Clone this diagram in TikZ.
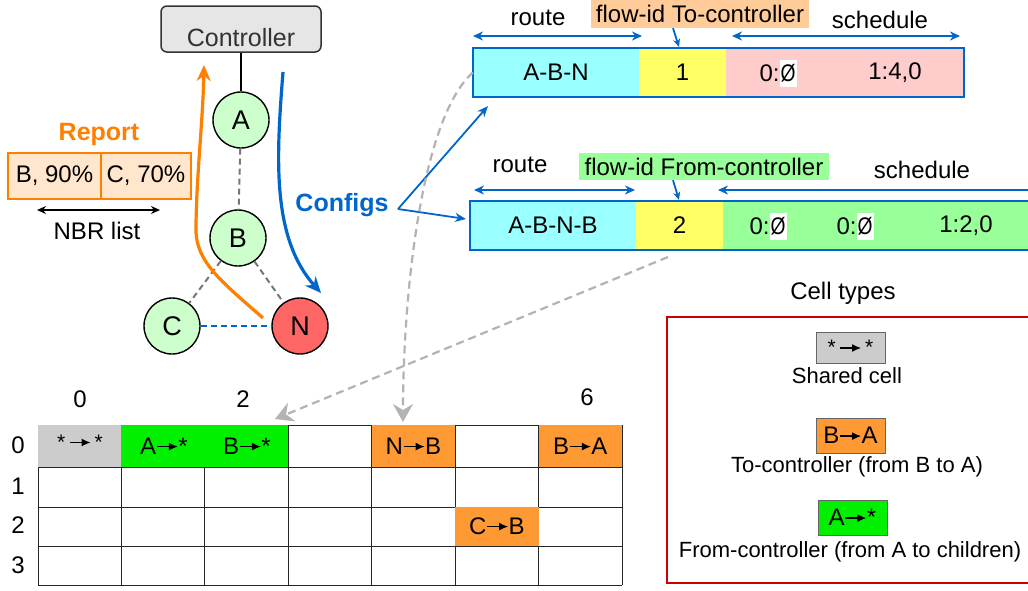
\documentclass[tikz,border=0pt]{standalone}
\usepackage{fontspec}
\setmainfont{Liberation Sans}
\usetikzlibrary{arrows.meta}
\definecolor{cblue}{HTML}{0066CC}
\definecolor{corange}{HTML}{FF8000}
\definecolor{nodegreen}{HTML}{CCFFCC}
\definecolor{nred}{HTML}{FF6666}
\definecolor{cyanc}{HTML}{99FFFF}
\definecolor{yell}{HTML}{FFFF66}
\definecolor{pinkc}{HTML}{FFCCCC}
\definecolor{lgreen}{HTML}{99FF99}
\definecolor{lblorange}{HTML}{FFCC99}
\definecolor{cellorange}{HTML}{FF9933}
\definecolor{cellgreen}{HTML}{00F000}
\definecolor{cellgray}{HTML}{CCCCCC}
\definecolor{repfill}{HTML}{FFE6CC}
\definecolor{ctrlfill}{HTML}{E6E6E6}
\definecolor{ctrlborder}{HTML}{333333}
\definecolor{dashgray}{HTML}{777777}
\definecolor{lightdash}{HTML}{B3B3B3}
\definecolor{legred}{HTML}{CC0000}
\newcommand\cellar[1][21pt]{\tikz[baseline=-0.32em]\draw[line width=1.2pt,-{Latex[length=9pt,width=8pt]}] (0pt,0pt)--(#1,0pt);}
\newcommand\nul{\tikz[baseline=0pt]\node[fill=white,inner sep=0pt,minimum height=27pt,minimum width=17pt,anchor=base,text depth=0pt] {\scalebox{0.8}[1]{Ø}};}
\begin{document}
\begin{tikzpicture}[x=1pt,y=-1pt,
  every node/.style={font=\fontsize{24}{28}\selectfont},
  circ/.style={circle,draw=black,line width=1.4pt,fill=nodegreen,minimum size=56pt,inner sep=0pt,font=\fontsize{27}{30}\selectfont},
  gdash/.style={draw=dashgray,line width=2pt,dash pattern=on 6pt off 4pt},
  seg/.style={minimum height=49pt,inner sep=0pt},
  barborder/.style={draw=cblue,line width=2pt},
  barrow/.style={draw=cblue,line width=2.2pt},
  bigdash/.style={draw=lightdash,line width=2.2pt,dash pattern=on 8pt off 5pt,-{Stealth[length=18pt,width=20pt,inset=6pt]}},
  gridline/.style={draw=black!85,line width=1pt},
  legbox/.style={draw=black!60,line width=1pt,inner sep=0pt},
  legtext/.style={font=\fontsize{22}{26}\selectfont}
]
\clip (0,0) rectangle (1028,590);
\fill[white] (0,0) rectangle (1028,590);

% ---------- controller and tree ----------
\node[draw=ctrlborder,fill=ctrlfill,rounded corners=6pt,line width=1.5pt,minimum width=160pt,minimum height=46pt] (ctrl) at (241,29) {};
\node[text=ctrlborder,font=\fontsize{25}{28}\selectfont] (ctrltxt) at (241,38) {Controller};
\node[circ] (A) at (241,120) {A};
\node[circ] (B) at (238,238) {B};
\node[circ] (C) at (172,326) {C};
\node[circ,fill=nred] (N) at (300,326) {N};
\draw[line width=2.2pt] (ctrl.south) -- (A.north);
\draw[gdash] (A) -- (B);
\draw[gdash] (B) -- (C);
\draw[gdash] (B) -- (N);
\draw[draw=cblue,line width=2pt,dash pattern=on 6pt off 4pt] (C) -- (N);

\coordinate (orS) at (263,318);
\coordinate (orE) at (204,65);
\draw[corange,line width=3.2pt,-{Stealth[length=16pt,width=14pt]}] (orS) .. controls (222,282) and (196,262) .. (196,230) .. controls (196,180) and (203,120) .. (orE);
\coordinate (blS) at (283,72);
\coordinate (blE) at (321,293);
\draw[cblue,line width=3.2pt,-{Stealth[length=16pt,width=14pt]}] (blS) .. controls (276,160) and (272,238) .. (blE);

% ---------- report ----------
\node[text=corange,font=\bfseries\fontsize{25}{28}\selectfont] (rep) at (99,134) {Report};
\node[draw=corange,fill=repfill,line width=1.5pt,minimum width=93pt,minimum height=46pt,inner sep=0pt] (r1) at (54.5,176) {B, 90\%};
\node[draw=corange,fill=repfill,line width=1.5pt,minimum width=90pt,minimum height=46pt,inner sep=0pt] (r2) at (146,176) {C, 70\%};
\coordinate (nbrL) at (37,210);
\coordinate (nbrR) at (160,210);
\draw[line width=1.3pt,{Stealth[length=9pt,width=8pt]}-{Stealth[length=9pt,width=8pt]}] (nbrL) -- (nbrR);
\node (nbr) at (97,231) {NBR list};

% ---------- configs ----------
\node[text=cblue,font=\bfseries\fontsize{25}{28}\selectfont] (cfg) at (342,205) {Configs};
\coordinate (cfgP) at (398,209);
\coordinate (cfgT) at (488,106);
\coordinate (cfgB) at (466,219);
\draw[cblue,line width=1.8pt,-{Stealth[length=11pt,width=9pt]}] (cfgP) -- (cfgT);
\draw[cblue,line width=1.8pt,-{Stealth[length=11pt,width=9pt]}] (cfgP) -- (cfgB);

% ---------- top bar ----------
\node (rt1) at (538,18) {route};
\node[fill=lblorange,inner sep=0pt,minimum width=218pt,minimum height=28pt] (fl1) at (700,14) {flow-id To-controller};
\node (sc1) at (880,20) {schedule};
\node[seg,fill=cyanc,minimum width=166pt] (t1) at (556,72.5) {A-B-N};
\node[seg,fill=yell,minimum width=87pt] (t2) at (682.5,72.5) {1};
\node[seg,fill=pinkc,minimum width=238pt] (t3) at (845,72.5) {};
\node (t3a) at (778,73) {0:\nul};
\node (t3b) at (895,73) {1:4,0};
\draw[barborder] (473,48) rectangle (964,97);
\draw[barrow,{Stealth[length=10pt,width=9pt]}-{Stealth[length=10pt,width=9pt]}] (473,36) -- (642,36);
\draw[barrow,{Stealth[length=10pt,width=9pt]}-{Stealth[length=10pt,width=9pt]}] (732,36) -- (960,36);
\draw[cblue,line width=1.8pt,-{Stealth[length=8pt,width=7pt]}] (fl1.south -| 673,0) -- (679,47);

% ---------- second bar ----------
\node (rt2) at (520,165) {route};
\node[fill=lgreen,inner sep=0pt,minimum width=250pt,minimum height=27pt] (fl2) at (704,166.5) {flow-id From-controller};
\node (sc2) at (922,170) {schedule};
\node[seg,fill=cyanc,minimum width=166pt] (b1) at (553,225.5) {A-B-N-B};
\node[seg,fill=yell,minimum width=87pt] (b2) at (679.5,225.5) {2};
\node[seg,fill=lgreen,minimum width=317pt] (b3) at (881.5,225.5) {};
\node (b3a) at (768,226) {0:\nul};
\node (b3b) at (855,226) {0:\nul};
\node (b3c) at (966,226) {1:2,0};
\draw[barborder] (470,201) rectangle (1040,250);
\draw[barrow,{Stealth[length=10pt,width=9pt]}-{Stealth[length=10pt,width=9pt]}] (474,190) -- (635,190);
\draw[barrow,-{Stealth[length=10pt,width=9pt]}] (1040,190) -- (718,190);
\draw[cblue,line width=1.8pt,-{Stealth[length=8pt,width=7pt]}] (fl2.south -| 673,0) -- (679,200);

% ---------- grid ----------
\foreach \i in {0,...,7} \draw[gridline] ({38+83.43*\i},425) -- ({38+83.43*\i},585);
\foreach \y in {425,467,507,546,585} \draw[gridline] (38,\y) -- (622,\y);
\fill[cellgray] (38,425) rectangle (121.4,467);
\fill[cellgreen] (121.4,425) rectangle (288.3,467);
\fill[cellorange] (371.7,425) rectangle (455.1,467);
\fill[cellorange] (538.6,425) rectangle (622,467);
\fill[cellorange] (455.1,507) rectangle (538.6,546);
\node[font=\fontsize{21}{24}\selectfont] (g00) at (80,442) {*\,\cellar\,*};
\node (g10) at (164,446) {A\cellar*};
\node (g20) at (247,446) {B\cellar*};
\node (g40) at (413.4,446) {N\cellar B};
\node (g60) at (580.3,446) {B\cellar A};
\node (g52) at (496.9,526) {C\cellar B};
\node (rl0) at (18,445) {0};
\node (rl1) at (18,486) {1};
\node (rl2) at (18,525) {2};
\node (rl3) at (18,565) {3};
\node (cl0) at (80,399) {0};
\node (cl2) at (243,399) {2};
\node (cl6) at (587,397) {6};

% ---------- dashed mapping arrows ----------
\coordinate (m1E) at (403,422);
\draw[bigdash] (t1.west) .. controls (420,120) and (403,300) .. (m1E);
\coordinate (m2S) at (668,257);
\coordinate (m2E) at (275,419);
\draw[bigdash] (m2S) -- (m2E);

% ---------- legend ----------
\node (ct) at (843,293) {Cell types};
\draw[legred,line width=2pt] (667,317) rectangle (1040,583);
\node[legbox,fill=cellgray,minimum width=69pt,minimum height=31pt,font=\fontsize{21}{24}\selectfont] (lg1) at (850.5,347.5) {*\,\cellar\,*};
\node[legtext] (lt1) at (847,376) {Shared cell};
\node[legbox,fill=cellorange,minimum width=69pt,minimum height=35pt] (lg2) at (850.5,435.5) {B\cellar A};
\node[legtext] (lt2) at (857,467) {To-controller (from B to A)};
\node[legbox,fill=cellgreen,minimum width=69pt,minimum height=35pt] (lg3) at (852.5,517.5) {A\cellar*};
\node[legtext] (lt3) at (850,552) {From-controller (from A to children)};
\end{tikzpicture}
\end{document}
